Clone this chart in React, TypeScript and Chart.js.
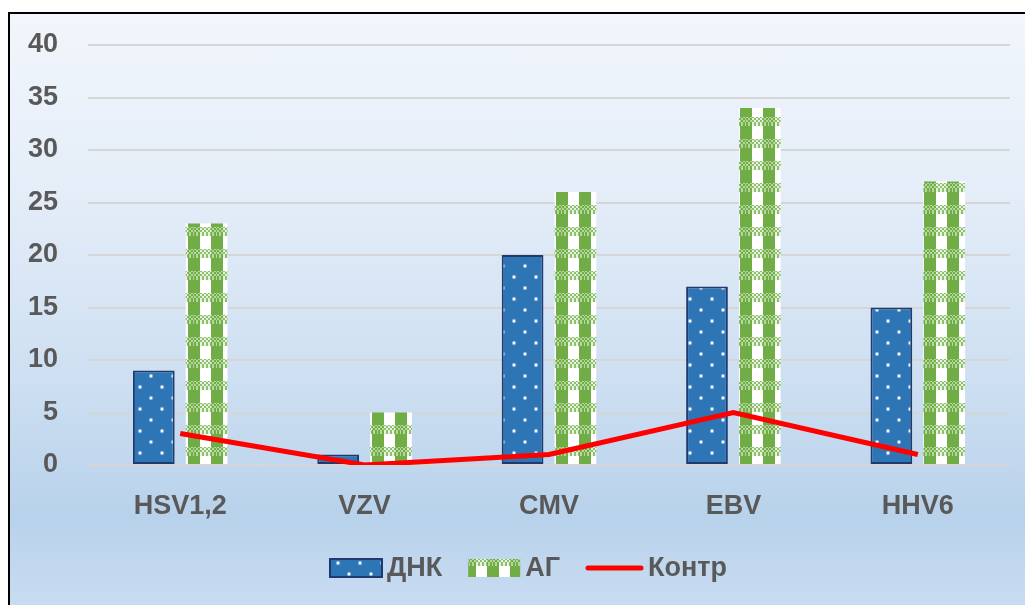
import React, { useEffect, useRef } from "react";
import { Chart, registerables } from "chart.js";

Chart.register(...registerables);

const categories = ["HSV1,2", "VZV", "CMV", "EBV", "HHV6"];
const dnkValues = [9, 1, 20, 17, 15];
const agValues = [23, 5, 26, 34, 27];
const controlValues = [3, 0, 1, 5, 1];
const seriesNames = ["ДНК", "АГ", "Контр"];
const yMin = 0;
const yMax = 40;
const yStep = 5;

const FONT = "'Liberation Sans', Arial, sans-serif";
const TEXT_COLOR = "#595959";
const BLUE = "#2e75b6";
const BLUE_BORDER = "#1f3a6e";
const GREEN = "#70ad47";
const RED = "#ff0000";

function makeDotTile(): HTMLCanvasElement {
  const c = document.createElement("canvas");
  c.width = 22;
  c.height = 22;
  const g = c.getContext("2d")!;
  g.fillStyle = BLUE;
  g.fillRect(0, 0, 22, 22);
  const dots = [
    [9, 10],
    [20, 21],
    [20, -1],
    [-2, 21],
    [-2, -1],
  ];
  for (const [x, y] of dots) {
    g.fillStyle = "rgba(255,255,255,0.4)";
    g.beginPath();
    g.arc(x, y, 2.2, 0, Math.PI * 2);
    g.fill();
    g.fillStyle = "#ffffff";
    g.beginPath();
    g.arc(x, y, 1.2, 0, Math.PI * 2);
    g.fill();
  }
  return c;
}

function makeCheckTile(): HTMLCanvasElement {
  const w = 23;
  const h = 22;
  const c = document.createElement("canvas");
  c.width = w;
  c.height = h;
  const g = c.getContext("2d")!;
  g.fillStyle = "#ffffff";
  g.fillRect(0, 0, w, h);
  for (let y = 0; y < h; y++) {
    const band = y >= 15 || y < 2;
    for (let x = 0; x < w; x++) {
      const inStripe = x >= 17 || x < 6;
      if (band) {
        const checker = (Math.floor(x / 2) + Math.floor(y / 2)) % 2 === 0;
        g.fillStyle = checker ? (inStripe ? GREEN : "#8fc06c") : inStripe ? "#b5d69d" : "#e8f2e1";
        g.fillRect(x, y, 1, 1);
      } else if (inStripe) {
        g.fillStyle = GREEN;
        g.fillRect(x, y, 1, 1);
      }
    }
  }
  return c;
}

export default function App() {
  const canvasRef = useRef<HTMLCanvasElement | null>(null);

  useEffect(() => {
    const canvas = canvasRef.current;
    if (!canvas) return;
    const ctx = canvas.getContext("2d")!;
    const bluePattern = ctx.createPattern(makeDotTile(), "repeat")!;
    const greenPattern = ctx.createPattern(makeCheckTile(), "repeat")!;

    const legendPlugin = {
      id: "customLegend",
      afterDraw(chart: any) {
        const c = chart.ctx as CanvasRenderingContext2D;
        c.save();
        c.font = `bold 27px ${FONT}`;
        c.textBaseline = "middle";
        const boxW = 52;
        const boxH = 18;
        const lineW = 57;
        const gapText = 5;
        const gapItem = 26;
        const marks = [boxW, boxW, lineW];
        const widths = seriesNames.map(
          (n, i) => marks[i] + gapText + c.measureText(n).width
        );
        const total = widths.reduce((a, b) => a + b, 0) + gapItem * (widths.length - 1);
        let x = chart.width / 2 - total / 2 + 11;
        const y = 554;
        seriesNames.forEach((name, i) => {
          if (i === 0) {
            c.fillStyle = bluePattern;
            c.fillRect(x, y - boxH / 2, boxW, boxH);
            c.strokeStyle = BLUE_BORDER;
            c.lineWidth = 2;
            c.strokeRect(x, y - boxH / 2, boxW, boxH);
          } else if (i === 1) {
            c.fillStyle = greenPattern;
            c.fillRect(x, y - boxH / 2, boxW, boxH);
          } else {
            c.strokeStyle = RED;
            c.lineWidth = 5;
            c.lineCap = "round";
            c.beginPath();
            c.moveTo(x + 2, y);
            c.lineTo(x + lineW - 2, y);
            c.stroke();
          }
          c.fillStyle = TEXT_COLOR;
          c.fillText(name, x + marks[i] + gapText, y + 1);
          x += widths[i] + gapItem;
        });
        c.restore();
      },
    };

    const chart = new Chart(ctx, {
      type: "bar",
      data: {
        labels: categories,
        datasets: [
          {
            type: "line",
            label: seriesNames[2],
            data: controlValues,
            borderColor: RED,
            backgroundColor: RED,
            borderWidth: 5,
            pointRadius: 0,
            tension: 0,
            order: 0,
          } as any,
          {
            type: "bar",
            label: seriesNames[0],
            data: dnkValues,
            backgroundColor: bluePattern as any,
            borderColor: BLUE_BORDER,
            borderWidth: 2,
            borderSkipped: false,
            categoryPercentage: 0.573,
            barPercentage: 0.79,
            order: 1,
          },
          {
            type: "bar",
            label: seriesNames[1],
            data: agValues,
            backgroundColor: greenPattern as any,
            borderWidth: 0,
            categoryPercentage: 0.573,
            barPercentage: 0.79,
            order: 1,
          },
        ],
      },
      options: {
        animation: false,
        responsive: false,
        maintainAspectRatio: false,
        layout: { padding: { top: 31, right: 15, left: 0, bottom: 0 } },
        plugins: {
          legend: { display: false },
          tooltip: { enabled: false },
        },
        scales: {
          x: {
            grid: { display: false, drawTicks: false },
            border: { display: false },
            ticks: {
              color: TEXT_COLOR,
              font: { family: FONT, size: 27, weight: "bold" },
              padding: 25,
            },
            afterFit(scale: any) {
              scale.height = 140;
            },
          },
          y: {
            min: yMin,
            max: yMax,
            grid: { color: "#d6d6d6", lineWidth: 2, drawTicks: false },
            border: { display: false },
            ticks: {
              stepSize: yStep,
              color: TEXT_COLOR,
              font: { family: FONT, size: 27, weight: "bold" },
              padding: 30,
            },
            afterFit(scale: any) {
              scale.width = 78;
              scale.paddingTop = 0;
              scale.paddingBottom = 0;
            },
          },
        },
      },
      plugins: [legendPlugin],
    });

    return () => chart.destroy();
  }, []);

  return (
    <div
      style={{
        position: "fixed",
        left: 8,
        top: 12,
        width: 1017,
        height: 593,
        boxSizing: "border-box",
        borderLeft: "2px solid #000",
        borderTop: "2px solid #000",
        background:
          "linear-gradient(to bottom, #f2f6fc 0%, #e4edf8 30%, #cfe0f2 60%, #b8d2eb 85%, #c8dcf1 100%)",
        overflow: "hidden",
      }}
    >
      <canvas
        ref={canvasRef}
        width={1015}
        height={591}
        style={{ display: "block", width: 1015, height: 591 }}
      />
    </div>
  );
}
